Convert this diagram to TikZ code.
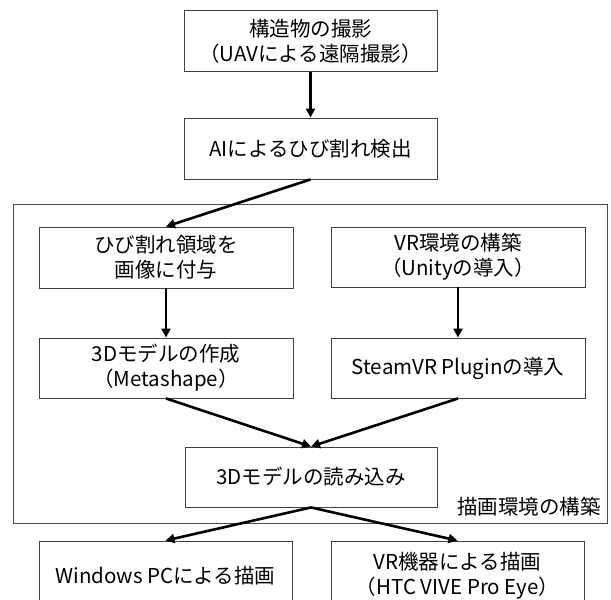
\documentclass[tikz,border=0pt]{standalone}
\usepackage{fontspec}
\setmainfont{Noto Sans CJK JP}
\usetikzlibrary{arrows.meta}
\begin{document}
\begin{tikzpicture}[x=1pt,y=-1pt,
  box/.style={draw=black!75, line width=0.9pt, fill=white, align=center, inner sep=0pt,
    font=\fontsize{20.5}{25}\selectfont},
  arr/.style={line width=2.6pt, -{Triangle[length=9pt,width=9pt]}},
  frame/.style={draw=black!70, line width=0.9pt}]
\useasboundingbox (0,0) rectangle (611,600);
\draw[frame] (13,204) rectangle (607,523);
\node[box, minimum width=253pt, minimum height=61pt] (n1) at (310.5,41) {構造物の撮影\\（UAVによる遠隔撮影）};
\node[box, minimum width=253pt, minimum height=61pt] (n2) at (310.5,148.5) {AIによるひび割れ検出};
\node[box, minimum width=254pt, minimum height=61pt] (n3) at (166,257.5) {ひび割れ領域を\\画像に付与};
\node[box, minimum width=254pt, minimum height=60pt] (n4) at (458,257) {VR環境の構築\\（Unityの導入）};
\node[box, minimum width=254pt, minimum height=60pt] (n5) at (166,368) {3Dモデルの作成\\（Metashape）};
\node[box, minimum width=254pt, minimum height=60pt] (n6) at (458,368) {SteamVR Pluginの導入};
\node[box, minimum width=252pt, minimum height=60pt] (n7) at (311,477) {3Dモデルの読み込み};
\node[box, minimum width=253pt, minimum height=69pt] (n8) at (165.5,575.5) {Windows PCによる描画};
\node[box, minimum width=253pt, minimum height=69pt] (n9) at (457.5,575.5) {VR機器による描画\\（HTC VIVE Pro Eye）};
\node[font=\fontsize{20.5}{25}\selectfont, anchor=east, inner sep=0pt] (lbl) at (601,507) {描画環境の構築};
\draw[arr] (n1.south) -- (n2.north);
\draw[arr] (n2.south) -- (n3.north);
\draw[arr] (n3.south) -- (n5.north);
\draw[arr] (n4.south) -- (n6.north);
\draw[arr] (n5.south) -- (n7.north);
\draw[arr] (n6.south) -- (n7.north);
\draw[arr] (n7.south) -- (n8.north);
\draw[arr] (n7.south) -- (n9.north);
\end{tikzpicture}
\end{document}
